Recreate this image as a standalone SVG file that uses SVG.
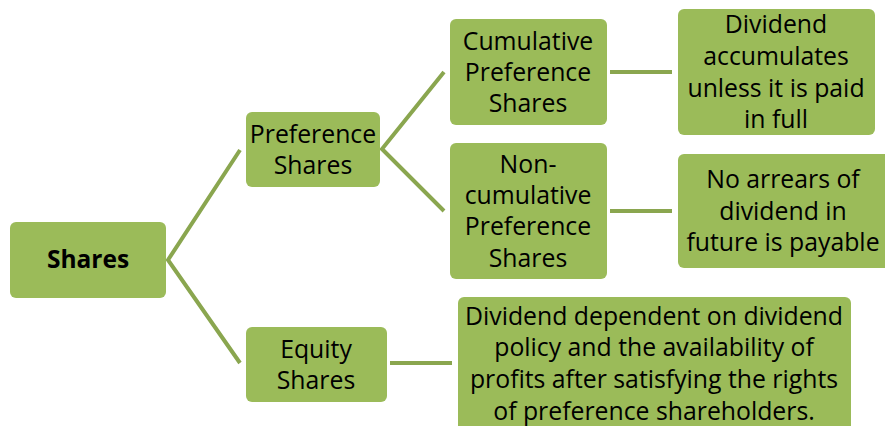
<svg xmlns="http://www.w3.org/2000/svg" width="885" height="426" viewBox="0 0 885 426">
<style>
.box{fill:#9bbb59;}
.t{font-family:"Open Sans","Liberation Sans",sans-serif;font-size:24.8px;fill:#000;text-anchor:middle;}
.b{font-weight:bold;font-size:24.5px;}
.c{stroke:#8aa64f;stroke-width:4;fill:none;}
</style>
<rect width="885" height="426" fill="#fff"/>
<g id="connectors">
<polyline class="c" points="240,150 168,260 240,363"/>
<polyline class="c" points="444,72 382,149 444,211"/>
<line class="c" x1="610" y1="72" x2="672" y2="72"/>
<line class="c" x1="610" y1="211" x2="672" y2="211"/>
<line class="c" x1="390" y1="363" x2="452" y2="363"/>
</g>
<g id="shares">
<rect class="box" x="10" y="222" width="156" height="76" rx="6"/>
<text class="t b" x="88" y="268">Shares</text>
</g>
<g id="preference">
<rect class="box" x="246" y="112" width="134" height="75" rx="6"/>
<text class="t" x="313" y="143">Preference</text>
<text class="t" x="313" y="174">Shares</text>
</g>
<g id="equity">
<rect class="box" x="246" y="327" width="141" height="75" rx="6"/>
<text class="t" x="316" y="358">Equity</text>
<text class="t" x="316" y="389">Shares</text>
</g>
<g id="cumulative">
<rect class="box" x="450" y="19" width="157" height="106" rx="6"/>
<text class="t" x="528" y="50">Cumulative</text>
<text class="t" x="528" y="81">Preference</text>
<text class="t" x="528" y="112">Shares</text>
</g>
<g id="noncumulative">
<rect class="box" x="450" y="143" width="157" height="136" rx="6"/>
<text class="t" x="528" y="173">Non-</text>
<text class="t" x="528" y="204">cumulative</text>
<text class="t" x="528" y="235">Preference</text>
<text class="t" x="528" y="267">Shares</text>
</g>
<g id="accumulates">
<rect class="box" x="678" y="9" width="197" height="126" rx="6"/>
<text class="t" x="776" y="33">Dividend</text>
<text class="t" x="776" y="65">accumulates</text>
<text class="t" x="776" y="97">unless it is paid</text>
<text class="t" x="776" y="128">in full</text>
</g>
<g id="noarrears">
<rect class="box" x="678" y="154" width="214" height="114" rx="6"/>
<text class="t" x="783" y="188">No arrears of</text>
<text class="t" x="783" y="220">dividend in</text>
<text class="t" x="783" y="251">future is payable</text>
</g>
<g id="equitydividend">
<rect class="box" x="458" y="297" width="393" height="140" rx="6"/>
<text class="t" x="654" y="325">Dividend dependent on dividend</text>
<text class="t" x="654" y="356">policy and the availability of</text>
<text class="t" x="654" y="388">profits after satisfying the rights</text>
<text class="t" x="654" y="420">of preference shareholders.</text>
</g>
</svg>
